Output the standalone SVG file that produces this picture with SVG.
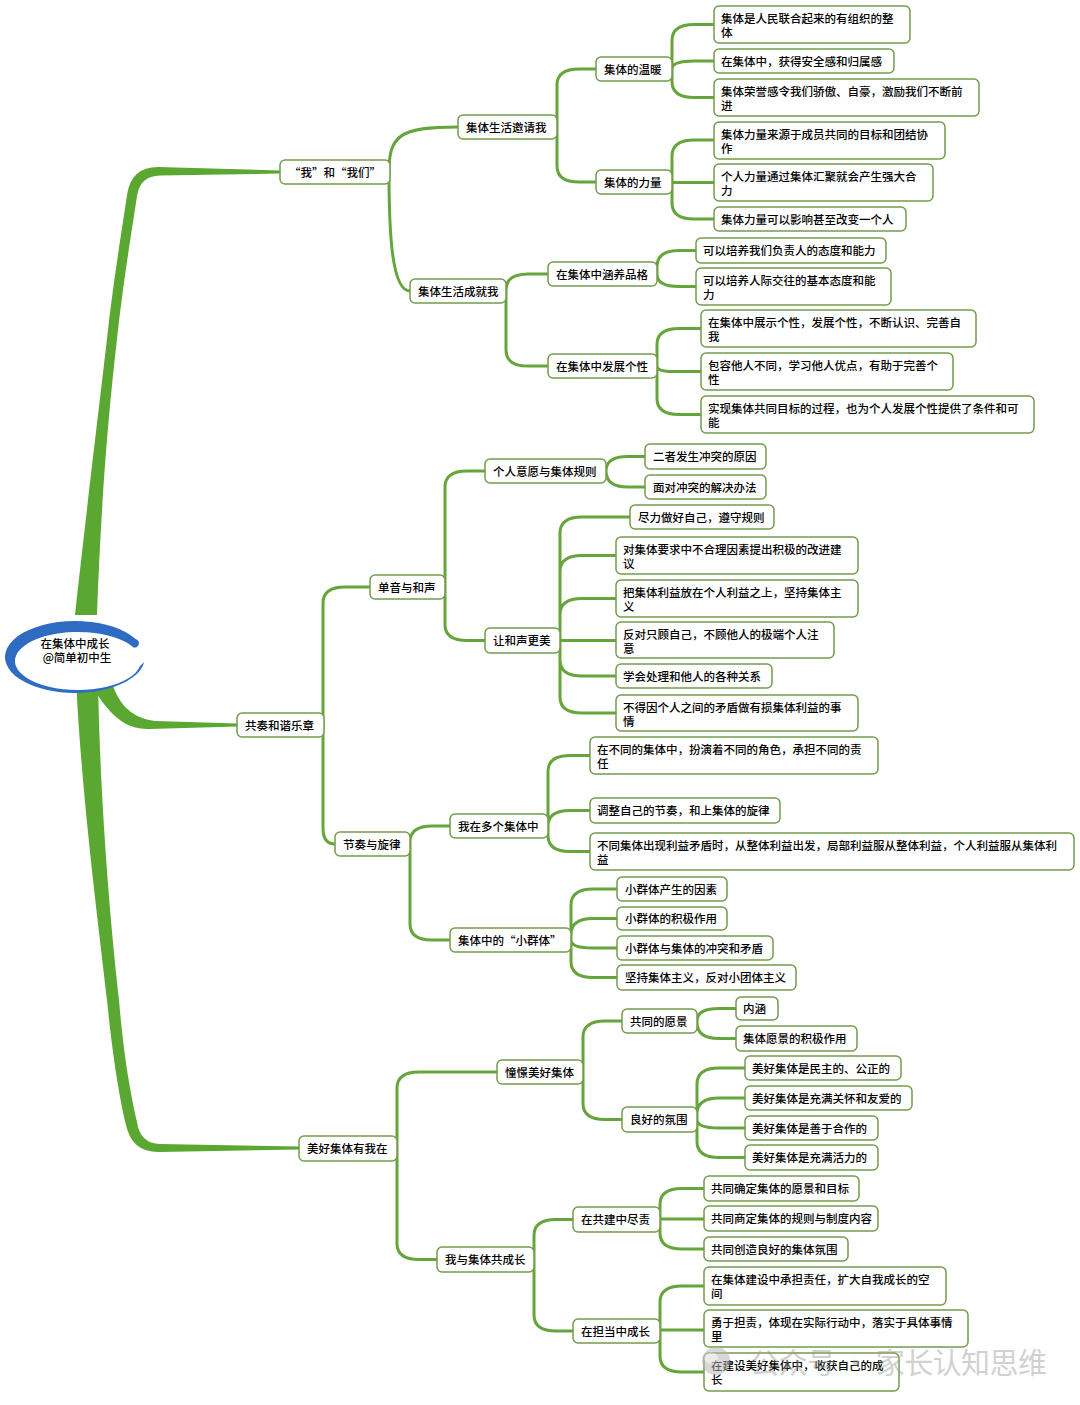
<svg xmlns="http://www.w3.org/2000/svg" width="1080" height="1405" viewBox="0 0 1080 1405">
<style>
.n rect{fill:#fff;stroke:#769c4c;stroke-width:1.5}
.n text{font-family:"Noto Sans CJK SC","Noto Sans",sans-serif;font-size:11.5px;font-weight:500;fill:#000}
.c{fill:none;stroke:#66a53b;stroke-width:3;stroke-linecap:round;stroke-linejoin:round}
.trunk{fill:#5aa832;stroke:none}
.rt{font-family:"Noto Sans CJK SC","Noto Sans",sans-serif;font-size:11.5px;font-weight:500;fill:#000}
.wm{font-family:"Noto Sans CJK SC","Noto Sans",sans-serif;font-size:29px;fill:#9a9a9a;opacity:0.6}
</style>
<rect width="1080" height="1405" fill="#fff"/>
<g id="connectors">
<path class="trunk" d="M 75 615 C 90 480 100 400 108 330 C 115 270 122 230 127 195 Q 131 167 158 167 L 280 170.5 L 280 173.5 L 160 175.5 Q 140 176 137 196 C 132 230 125 270 118 330 C 110 400 102 480 97 615 Z"/>
<path class="trunk" d="M 76 680 C 82 800 98 920 107 1000 C 113 1060 120 1100 126 1125 Q 132 1153 160 1152 L 299 1149.5 L 299 1146.5 L 160 1144 Q 140 1143.5 137 1122 C 131 1095 124 1060 119 1000 C 110 920 100 800 98 680 Z"/>
<path class="trunk" d="M 113 686 C 120 705 132 718 155 721 L 237 723.5 L 237 726.5 L 150 729 C 125 730 110 715 93 688 Z"/>
<path class="c" d="M 389 172 C 389 135 400 127 458 127"/>
<path class="c" d="M 389 172 C 389 235 392 291 410 291"/>
<path class="c" d="M 557 127 V 85 Q 557 69 579 69 H 596 M 557 127 V 166 Q 557 182 579 182 H 596"/>
<path class="c" d="M 672 69 V 40.5 Q 672 24.5 694 24.5 H 714 M 672 69 Q 672 61 694 61 H 714 M 672 69 V 81.5 Q 672 97.5 694 97.5 H 714"/>
<path class="c" d="M 672 182 V 156 Q 672 140 694 140 H 714 M 672 182.5 H 714 M 672 182 V 203 Q 672 219 694 219 H 714"/>
<path class="c" d="M 506 291 V 290 Q 506 274 528 274 H 548 M 506 291 V 350 Q 506 366 528 366 H 548"/>
<path class="c" d="M 657 274 V 266.5 Q 657 250.5 679 250.5 H 696 M 657 274 Q 657 286.5 679 286.5 H 696"/>
<path class="c" d="M 657 366 V 344.5 Q 657 328.5 679 328.5 H 701 M 657 366 Q 657 371.5 672 371.5 H 701 M 657 366 V 398.5 Q 657 414.5 679 414.5 H 701"/>
<path class="c" d="M 323 725 V 603 Q 323 587 345 587 H 370 M 323 725 V 828 Q 323 844 335 844"/>
<path class="c" d="M 445 587 V 487 Q 445 471 467 471 H 485 M 445 587 V 624.5 Q 445 640.5 467 640.5 H 485"/>
<path class="c" d="M 606 471 Q 606 456.5 628 456.5 H 645 M 606 471 Q 606 487 628 487 H 645"/>
<path class="c" d="M 560 640.5 V 533 Q 560 517 582 517 H 630 M 560 640.5 V 571.5 Q 560 555.5 582 555.5 H 616 M 560 640.5 V 614.5 Q 560 598.5 582 598.5 H 616 M 560 640.5 H 616 M 560 640.5 V 660 Q 560 676 582 676 H 616 M 560 640.5 V 697 Q 560 713 582 713 H 616"/>
<path class="c" d="M 410 844 V 842 Q 410 826 432 826 H 450 M 410 844 V 924 Q 410 940 432 940 H 450"/>
<path class="c" d="M 548 826 V 771.5 Q 548 755.5 570 755.5 H 590 M 548 826 Q 548 810.5 570 810.5 H 590 M 548 826 V 835.5 Q 548 851.5 570 851.5 H 590"/>
<path class="c" d="M 571 940 V 905 Q 571 889 593 889 H 617 M 571 940 V 934.5 Q 571 918.5 593 918.5 H 617 M 571 940 Q 571 948 593 948 H 617 M 571 940 V 961.5 Q 571 977.5 593 977.5 H 617"/>
<path class="c" d="M 397 1148.5 V 1088 Q 397 1072 419 1072 H 497 M 397 1148.5 V 1243.5 Q 397 1259.5 419 1259.5 H 437"/>
<path class="c" d="M 583 1072 V 1037 Q 583 1021 605 1021 H 622 M 583 1072 V 1103.5 Q 583 1119.5 605 1119.5 H 622"/>
<path class="c" d="M 697 1021 Q 697 1008.5 719 1008.5 H 736 M 697 1021 V 1022.5 Q 697 1038.5 719 1038.5 H 736"/>
<path class="c" d="M 697 1119.5 V 1084 Q 697 1068 719 1068 H 745 M 697 1119.5 V 1114 Q 697 1098 719 1098 H 745 M 697 1119.5 Q 697 1128 719 1128 H 745 M 697 1119.5 V 1141.5 Q 697 1157.5 719 1157.5 H 745"/>
<path class="c" d="M 534 1259.5 V 1235.5 Q 534 1219.5 556 1219.5 H 573 M 534 1259.5 V 1315 Q 534 1331 556 1331 H 573"/>
<path class="c" d="M 660 1219.5 V 1204.5 Q 660 1188.5 682 1188.5 H 704 M 660 1219 H 704 M 660 1219.5 V 1233 Q 660 1249 682 1249 H 704"/>
<path class="c" d="M 660 1331 V 1302 Q 660 1286 682 1286 H 704 M 660 1330 H 704 M 660 1331 V 1356 Q 660 1372 682 1372 H 704"/>
</g>
<g id="root">
<ellipse cx="76" cy="658" rx="68" ry="34" fill="#fff"/>
<path fill="#2e6cc4" d="M 135.6 639 A 70 36 0 1 0 144.3 662 L 140 666 A 63 29 0 1 1 133.6 647.4 A 4.3 4.3 0 0 0 135.6 639 Z"/>
<text class="rt" x="75" y="648" text-anchor="middle">在集体中成长</text>
<text class="rt" x="77" y="662" text-anchor="middle">@简单初中生</text>
</g>
<g id="n1" class="n"><rect x="280" y="160" width="110" height="24" rx="5"/><text x="335" y="176.5" text-anchor="middle">“我”和“我们”</text></g>
<g id="n2" class="n"><rect x="237" y="713" width="87" height="24" rx="5"/><text x="245" y="729.5">共奏和谐乐章</text></g>
<g id="n3" class="n"><rect x="299" y="1136" width="98" height="25" rx="5"/><text x="307" y="1153">美好集体有我在</text></g>
<g id="n1a" class="n"><rect x="458" y="115" width="99" height="24" rx="5"/><text x="466" y="131.5">集体生活邀请我</text></g>
<g id="n1b" class="n"><rect x="410" y="279" width="96" height="24" rx="5"/><text x="418" y="295.5">集体生活成就我</text></g>
<g id="n2a" class="n"><rect x="370" y="575" width="75" height="24" rx="5"/><text x="378" y="591.5">单音与和声</text></g>
<g id="n2b" class="n"><rect x="335" y="832" width="75" height="24" rx="5"/><text x="343" y="848.5">节奏与旋律</text></g>
<g id="n3a" class="n"><rect x="497" y="1060" width="86" height="24" rx="5"/><text x="505" y="1076.5">憧憬美好集体</text></g>
<g id="n3b" class="n"><rect x="437" y="1247" width="97" height="25" rx="5"/><text x="445" y="1264">我与集体共成长</text></g>
<g id="n1a1" class="n"><rect x="596" y="57" width="76" height="24" rx="5"/><text x="604" y="73.5">集体的温暖</text></g>
<g id="n1a2" class="n"><rect x="596" y="170" width="76" height="24" rx="5"/><text x="604" y="186.5">集体的力量</text></g>
<g id="n1b1" class="n"><rect x="548" y="262" width="109" height="24" rx="5"/><text x="556" y="278.5">在集体中涵养品格</text></g>
<g id="n1b2" class="n"><rect x="548" y="354" width="109" height="24" rx="5"/><text x="556" y="370.5">在集体中发展个性</text></g>
<g id="n2a1" class="n"><rect x="485" y="459" width="121" height="24" rx="5"/><text x="493" y="475.5">个人意愿与集体规则</text></g>
<g id="n2a2" class="n"><rect x="485" y="628" width="75" height="25" rx="5"/><text x="493" y="645">让和声更美</text></g>
<g id="n2b1" class="n"><rect x="450" y="814" width="98" height="24" rx="5"/><text x="458" y="830.5">我在多个集体中</text></g>
<g id="n2b2" class="n"><rect x="450" y="928" width="121" height="24" rx="5"/><text x="458" y="944.5">集体中的“小群体”</text></g>
<g id="n3a1" class="n"><rect x="622" y="1009" width="75" height="24" rx="5"/><text x="630" y="1025.5">共同的愿景</text></g>
<g id="n3a2" class="n"><rect x="622" y="1107" width="75" height="25" rx="5"/><text x="630" y="1124">良好的氛围</text></g>
<g id="n3b1" class="n"><rect x="573" y="1207" width="87" height="25" rx="5"/><text x="581" y="1224">在共建中尽责</text></g>
<g id="n3b2" class="n"><rect x="573" y="1319" width="87" height="24" rx="5"/><text x="581" y="1335.5">在担当中成长</text></g>
<g id="l1" class="n"><rect x="714" y="6" width="196" height="37" rx="5"/><text><tspan x="721" y="22.5">集体是人民联合起来的有组织的整</tspan><tspan x="721" y="36.5">体</tspan></text></g>
<g id="l2" class="n"><rect x="714" y="49" width="180" height="24" rx="5"/><text x="721" y="65.5">在集体中，获得安全感和归属感</text></g>
<g id="l3" class="n"><rect x="714" y="79" width="265" height="37" rx="5"/><text><tspan x="721" y="95.5">集体荣誉感令我们骄傲、自豪，激励我们不断前</tspan><tspan x="721" y="109.5">进</tspan></text></g>
<g id="l4" class="n"><rect x="714" y="122" width="231" height="37" rx="5"/><text><tspan x="721" y="138.5">集体力量来源于成员共同的目标和团结协</tspan><tspan x="721" y="152.5">作</tspan></text></g>
<g id="l5" class="n"><rect x="714" y="164" width="219" height="37" rx="5"/><text><tspan x="721" y="180.5">个人力量通过集体汇聚就会产生强大合</tspan><tspan x="721" y="194.5">力</tspan></text></g>
<g id="l6" class="n"><rect x="714" y="207" width="192" height="24" rx="5"/><text x="721" y="223.5">集体力量可以影响甚至改变一个人</text></g>
<g id="l7" class="n"><rect x="696" y="238" width="190" height="25" rx="5"/><text x="703" y="255">可以培养我们负责人的态度和能力</text></g>
<g id="l8" class="n"><rect x="696" y="268" width="195" height="37" rx="5"/><text><tspan x="703" y="284.5">可以培养人际交往的基本态度和能</tspan><tspan x="703" y="298.5">力</tspan></text></g>
<g id="l9" class="n"><rect x="701" y="310" width="275" height="37" rx="5"/><text><tspan x="708" y="326.5">在集体中展示个性，发展个性，不断认识、完善自</tspan><tspan x="708" y="340.5">我</tspan></text></g>
<g id="l10" class="n"><rect x="701" y="353" width="252" height="37" rx="5"/><text><tspan x="708" y="369.5">包容他人不同，学习他人优点，有助于完善个</tspan><tspan x="708" y="383.5">性</tspan></text></g>
<g id="l11" class="n"><rect x="701" y="396" width="333" height="37" rx="5"/><text><tspan x="708" y="412.5">实现集体共同目标的过程，也为个人发展个性提供了条件和可</tspan><tspan x="708" y="426.5">能</tspan></text></g>
<g id="l12" class="n"><rect x="645" y="444" width="121" height="25" rx="5"/><text x="653" y="461">二者发生冲突的原因</text></g>
<g id="l13" class="n"><rect x="645" y="475" width="121" height="24" rx="5"/><text x="653" y="491.5">面对冲突的解决办法</text></g>
<g id="l14" class="n"><rect x="630" y="505" width="144" height="24" rx="5"/><text x="638" y="521.5">尽力做好自己，遵守规则</text></g>
<g id="l15" class="n"><rect x="616" y="537" width="242" height="37" rx="5"/><text><tspan x="623" y="553.5">对集体要求中不合理因素提出积极的改进建</tspan><tspan x="623" y="567.5">议</tspan></text></g>
<g id="l16" class="n"><rect x="616" y="580" width="242" height="37" rx="5"/><text><tspan x="623" y="596.5">把集体利益放在个人利益之上，坚持集体主</tspan><tspan x="623" y="610.5">义</tspan></text></g>
<g id="l17" class="n"><rect x="616" y="622" width="218" height="36" rx="5"/><text><tspan x="623" y="638.5">反对只顾自己，不顾他人的极端个人注</tspan><tspan x="623" y="652.5">意</tspan></text></g>
<g id="l18" class="n"><rect x="616" y="664" width="156" height="24" rx="5"/><text x="623" y="680.5">学会处理和他人的各种关系</text></g>
<g id="l19" class="n"><rect x="616" y="695" width="242" height="36" rx="5"/><text><tspan x="623" y="711.5">不得因个人之间的矛盾做有损集体利益的事</tspan><tspan x="623" y="725.5">情</tspan></text></g>
<g id="l20" class="n"><rect x="590" y="737" width="288" height="37" rx="5"/><text><tspan x="597" y="753.5">在不同的集体中，扮演着不同的角色，承担不同的责</tspan><tspan x="597" y="767.5">任</tspan></text></g>
<g id="l21" class="n"><rect x="590" y="798" width="190" height="25" rx="5"/><text x="597" y="815">调整自己的节奏，和上集体的旋律</text></g>
<g id="l22" class="n"><rect x="590" y="833" width="484" height="37" rx="5"/><text><tspan x="597" y="849.5">不同集体出现利益矛盾时，从整体利益出发，局部利益服从整体利益，个人利益服从集体利</tspan><tspan x="597" y="863.5">益</tspan></text></g>
<g id="l23" class="n"><rect x="617" y="877" width="110" height="24" rx="5"/><text x="625" y="893.5">小群体产生的因素</text></g>
<g id="l24" class="n"><rect x="617" y="907" width="110" height="23" rx="5"/><text x="625" y="923">小群体的积极作用</text></g>
<g id="l25" class="n"><rect x="617" y="936" width="156" height="24" rx="5"/><text x="625" y="952.5">小群体与集体的冲突和矛盾</text></g>
<g id="l26" class="n"><rect x="617" y="965" width="179" height="25" rx="5"/><text x="625" y="982">坚持集体主义，反对小团体主义</text></g>
<g id="l27" class="n"><rect x="736" y="997" width="42" height="23" rx="5"/><text x="743" y="1013">内涵</text></g>
<g id="l28" class="n"><rect x="736" y="1026" width="121" height="25" rx="5"/><text x="743" y="1043">集体愿景的积极作用</text></g>
<g id="l29" class="n"><rect x="745" y="1056" width="156" height="24" rx="5"/><text x="752" y="1072.5">美好集体是民主的、公正的</text></g>
<g id="l30" class="n"><rect x="745" y="1086" width="167" height="24" rx="5"/><text x="752" y="1102.5">美好集体是充满关怀和友爱的</text></g>
<g id="l31" class="n"><rect x="745" y="1116" width="133" height="24" rx="5"/><text x="752" y="1132.5">美好集体是善于合作的</text></g>
<g id="l32" class="n"><rect x="745" y="1145" width="133" height="25" rx="5"/><text x="752" y="1162">美好集体是充满活力的</text></g>
<g id="l33" class="n"><rect x="704" y="1176" width="155" height="25" rx="5"/><text x="711" y="1193">共同确定集体的愿景和目标</text></g>
<g id="l34" class="n"><rect x="704" y="1206" width="174" height="25" rx="5"/><text x="711" y="1223">共同商定集体的规则与制度内容</text></g>
<g id="l35" class="n"><rect x="704" y="1237" width="144" height="24" rx="5"/><text x="711" y="1253.5">共同创造良好的集体氛围</text></g>
<g id="l36" class="n"><rect x="704" y="1267" width="242" height="38" rx="5"/><text><tspan x="711" y="1283.5">在集体建设中承担责任，扩大自我成长的空</tspan><tspan x="711" y="1297.5">间</tspan></text></g>
<g id="l37" class="n"><rect x="704" y="1310" width="264" height="37" rx="5"/><text><tspan x="711" y="1326.5">勇于担责，体现在实际行动中，落实于具体事情</tspan><tspan x="711" y="1340.5">里</tspan></text></g>
<g id="l38" class="n"><rect x="704" y="1353" width="195" height="38" rx="5"/><text><tspan x="711" y="1369.5">在建设美好集体中，收获自己的成</tspan><tspan x="711" y="1383.5">长</tspan></text></g>
<g id="watermark" opacity="0.75">
<circle cx="716" cy="1361" r="14" fill="#b5b5b5" opacity="0.7"/>
<ellipse cx="711" cy="1358" rx="7" ry="5.5" fill="#fff" opacity="0.5"/>
<text class="wm" x="750" y="1374" textLength="297" lengthAdjust="spacing">公众号 · 家长认知思维</text>
</g>
</svg>
